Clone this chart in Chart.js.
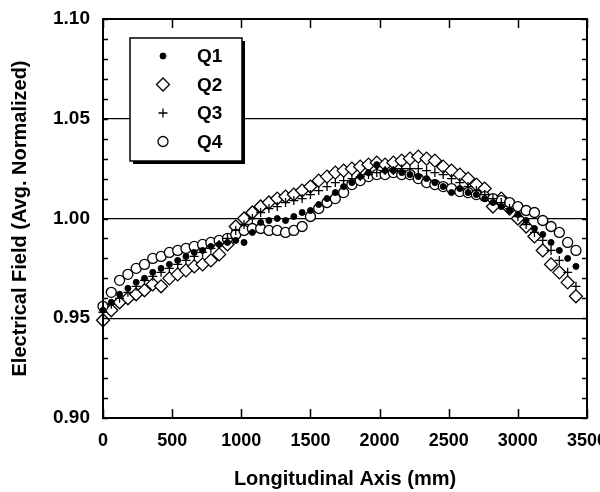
<!DOCTYPE html>
<html>
<head>
<meta charset="utf-8">
<script src="https://cdn.jsdelivr.net/npm/chart.js@4.4.0/dist/chart.umd.min.js"></script>
<style>
  html, body { margin: 0; padding: 0; background: #fff; overflow: hidden; width: 600px; height: 492px; }
  canvas { display: block; }
</style>
</head>
<body>
<canvas id="fieldChart" width="620" height="492"></canvas>
<script>
// measurement positions along the axis (mm)
const positions = [0, 60, 120, 180, 240, 300, 360, 420, 480, 540, 600, 660, 720, 780, 840, 900, 960, 1020,
  1080, 1140, 1200, 1260, 1320, 1380, 1440, 1500, 1560, 1620, 1680, 1740, 1800, 1860, 1920, 1980, 2040,
  2100, 2160, 2220, 2280, 2340, 2400, 2460, 2520, 2580, 2640, 2700, 2760, 2820, 2880, 2940, 3000, 3060,
  3120, 3180, 3240, 3300, 3360, 3420];

const q1 = [0.954, 0.958, 0.962, 0.965, 0.968, 0.970, 0.973, 0.975, 0.977, 0.979, 0.981, 0.983, 0.984, 0.986,
  0.987, 0.988, 0.989, 0.988, 0.993, 0.998, 0.999, 1.000, 0.999, 1.001, 1.003, 1.004, 1.007, 1.010, 1.013,
  1.016, 1.018, 1.021, 1.023, 1.027, 1.024, 1.024, 1.023, 1.022, 1.021, 1.020, 1.018, 1.016, 1.013, 1.015,
  1.013, 1.012, 1.010, 1.008, 1.006, 1.004, 1.002, 0.999, 0.995, 0.992, 0.988, 0.984, 0.980, 0.976];

const q2 = [0.949, 0.954, 0.958, 0.960, 0.962, 0.964, 0.967, 0.966, 0.970, 0.972, 0.974, 0.976, 0.977, 0.979,
  0.982, 0.987, 0.996, 1.000, 1.003, 1.006, 1.008, 1.010, 1.011, 1.012, 1.014, 1.016, 1.019, 1.021, 1.023,
  1.024, 1.025, 1.026, 1.027, 1.028, 1.027, 1.028, 1.029, 1.030, 1.031, 1.030, 1.029, 1.026, 1.024, 1.022,
  1.020, 1.017, 1.015, 1.006, 1.010, 1.005, 1.000, 0.996, 0.991, 0.984, 0.977, 0.973, 0.968, 0.961];

const q3 = [0.953, 0.957, 0.960, 0.963, 0.966, 0.969, 0.971, 0.973, 0.975, 0.977, 0.979, 0.981, 0.983, 0.985,
  0.987, 0.990, 0.994, 0.997, 1.000, 1.003, 1.005, 1.006, 1.008, 1.009, 1.010, 1.012, 1.014, 1.016, 1.018,
  1.019, 1.020, 1.021, 1.022, 1.023, 1.024, 1.024, 1.025, 1.025, 1.025, 1.024, 1.023, 1.022, 1.020, 1.018,
  1.016, 1.014, 1.012, 1.010, 1.008, 1.005, 1.001, 0.997, 0.993, 0.989, 0.984, 0.979, 0.973, 0.966];

const q4 = [0.956, 0.963, 0.969, 0.972, 0.975, 0.977, 0.980, 0.981, 0.983, 0.984, 0.985, 0.986, 0.987, 0.988,
  0.989, 0.990, 0.992, 0.994, 0.995, 0.995, 0.994, 0.994, 0.993, 0.994, 0.996, 1.001, 1.005, 1.008, 1.010,
  1.013, 1.017, 1.019, 1.021, 1.022, 1.022, 1.023, 1.022, 1.022, 1.020, 1.018, 1.017, 1.016, 1.015, 1.0135,
  1.013, 1.012, 1.011, 1.010, 1.009, 1.008, 1.006, 1.004, 1.003, 0.999, 0.996, 0.993, 0.988, 0.984];

const seriesNames = ['Q1', 'Q2', 'Q3', 'Q4'];
const xTicks = [0, 500, 1000, 1500, 2000, 2500, 3000, 3500];
const yTicks = [0.90, 0.95, 1.00, 1.05, 1.10];

const FONT = '"Liberation Sans", Arial, Helvetica, sans-serif';

function toPoints(vals) {
  return vals.map((v, i) => ({ x: positions[i], y: v }));
}

const markerStyles = [
  { pointStyle: 'circle', pointRadius: 3, backgroundColor: '#000', borderColor: '#000', pointBorderWidth: 1, order: 1 },
  { pointStyle: 'rectRot', pointRadius: 6.5, backgroundColor: '#fff', borderColor: '#000', pointBorderWidth: 1.3, order: 3 },
  { pointStyle: 'cross', pointRadius: 4.5, backgroundColor: '#000', borderColor: '#000', pointBorderWidth: 1.3, order: 0 },
  { pointStyle: 'circle', pointRadius: 5, backgroundColor: '#fff', borderColor: '#000', pointBorderWidth: 1.3, order: 2 }
];

const allValues = [q1, q2, q3, q4];

// frame, inward ticks and the boxed legend
const framePlugin = {
  id: 'framePlugin',
  afterDraw(chart) {
    const { ctx, chartArea: a, scales: { x, y } } = chart;
    ctx.save();
    ctx.strokeStyle = '#000';
    ctx.lineWidth = 1.5;
    ctx.beginPath();
    for (let k = 0; k <= 20; k++) {
      const py = Math.round(y.getPixelForValue(0.9 + k * 0.01)) + 0.5;
      ctx.moveTo(a.left, py); ctx.lineTo(a.left + 5, py);
      ctx.moveTo(a.right, py); ctx.lineTo(a.right - 5, py);
    }
    for (const t of xTicks) {
      const px = Math.round(x.getPixelForValue(t)) + 0.5;
      ctx.moveTo(px, a.bottom); ctx.lineTo(px, a.bottom - 9);
      ctx.moveTo(px, a.top); ctx.lineTo(px, a.top + 9);
    }
    ctx.stroke();
    ctx.lineWidth = 2;
    ctx.strokeRect(a.left, a.top, a.right - a.left, a.bottom - a.top);

    // legend box
    const bx = 130, by = 38, bw = 112, bh = 123;
    ctx.fillStyle = '#000';
    ctx.fillRect(bx + 3, by + 3, bw, bh);
    ctx.fillStyle = '#fff';
    ctx.fillRect(bx, by, bw, bh);
    ctx.lineWidth = 1.5;
    ctx.strokeRect(bx, by, bw, bh);
    ctx.font = 'bold 19px ' + FONT;
    ctx.textBaseline = 'middle';
    ctx.textAlign = 'left';
    chart.data.datasets.forEach((ds, i) => {
      const ly = 56 + i * 28.5;
      ctx.fillStyle = ds.backgroundColor;
      ctx.strokeStyle = ds.borderColor;
      ctx.lineWidth = ds.pointBorderWidth;
      Chart.helpers.drawPoint(ctx, {
        pointStyle: ds.pointStyle, radius: ds.pointRadius, borderWidth: ds.pointBorderWidth, rotation: 0
      }, 163, ly);
      ctx.fillStyle = '#000';
      ctx.fillText(ds.label, 197, ly + 1);
    });
    ctx.restore();
  }
};

window.onload = () => {
  const datasets = allValues.map((vals, i) => ({
    label: seriesNames[i],
    data: toPoints(vals),
    clip: false,
    ...markerStyles[i]
  }));

  new Chart(document.getElementById('fieldChart').getContext('2d'), {
    type: 'scatter',
    data: { datasets },
    options: {
      responsive: false,
      animation: false,
      events: [],
      layout: { padding: { top: 19, right: 33, left: 0, bottom: 0 } },
      plugins: { legend: { display: false }, tooltip: { enabled: false } },
      scales: {
        x: {
          type: 'linear', min: 0, max: 3500,
          afterFit: s => { s.height = 74; s.paddingLeft = 0; s.paddingRight = 0; },
          afterBuildTicks: s => { s.ticks = xTicks.map(v => ({ value: v })); },
          ticks: { color: '#000', padding: 12, font: { family: FONT, size: 18, weight: 'bold' }, maxRotation: 0,
                   callback: v => String(v) },
          grid: { display: false, drawTicks: false },
          border: { display: false },
          title: { display: true, text: 'Longitudinal Axis (mm)', color: '#000', padding: { top: 0, bottom: 1 },
                   font: { family: FONT, size: 20, weight: 'bold' } }
        },
        y: {
          type: 'linear', min: 0.9, max: 1.1,
          afterFit: s => { s.width = 103; s.paddingTop = 0; s.paddingBottom = 0; },
          afterBuildTicks: s => { s.ticks = yTicks.map(v => ({ value: v })); },
          ticks: { color: '#000', padding: 13, font: { family: FONT, size: 19, weight: 'bold' },
                   callback: v => Number(v).toFixed(2) },
          grid: { color: '#000', lineWidth: 1.2, drawTicks: false },
          border: { display: false },
          title: { display: true, text: 'Electrical Field (Avg. Normalized)', color: '#000', padding: { top: 8, bottom: 0 },
                   font: { family: FONT, size: 20, weight: 'bold' } }
        }
      }
    },
    plugins: [framePlugin]
  });
};
</script>
</body>
</html>
